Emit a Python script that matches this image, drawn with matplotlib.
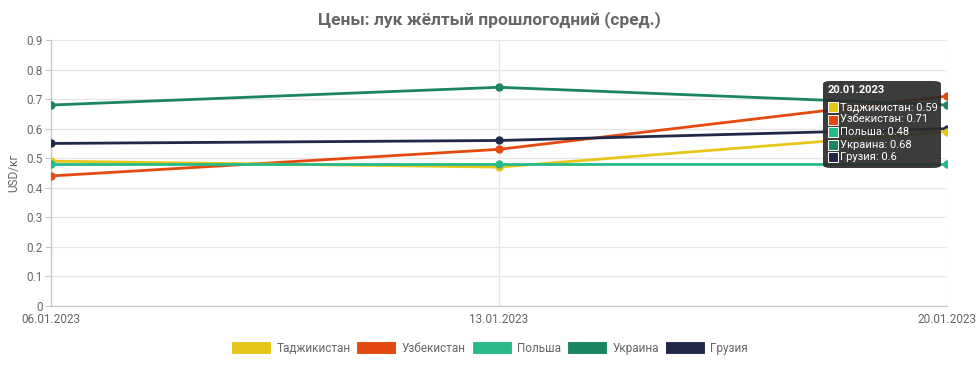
import matplotlib.pyplot as plt
from matplotlib.patches import FancyBboxPatch, Rectangle

plt.rcParams["font.family"] = ["Roboto", "DejaVu Sans"]

dates = ["06.01.2023", "13.01.2023", "20.01.2023"]
series_names = ["Таджикистан", "Узбекистан", "Польша", "Украина", "Грузия"]
tajikistan = [0.49, 0.47, 0.59]
uzbekistan = [0.44, 0.53, 0.71]
poland = [0.48, 0.48, 0.48]
ukraine = [0.68, 0.74, 0.68]
georgia = [0.55, 0.56, 0.60]
colors = ["#E6C619", "#E4490F", "#27B98A", "#1B8562", "#20294A"]
yticks = [0, 0.1, 0.2, 0.3, 0.4, 0.5, 0.6, 0.7, 0.8, 0.9]

values = [tajikistan, uzbekistan, poland, ukraine, georgia]
x = list(range(len(dates)))

fig = plt.figure(figsize=(9.79, 3.65), dpi=100)
ax = fig.add_axes([51 / 979, 59 / 365, 896 / 979, 266 / 365])

# draw so that yellow sits under teal where they overlap in the middle
order = [1, 3, 4, 0, 2]
for i in order:
    ax.plot(x, values[i], color=colors[i], lw=2.0, marker="o", ms=5,
            solid_capstyle="round", zorder=3 + order.index(i))

ax.set_xlim(0, 2)
ax.set_ylim(0, 0.9)
ax.set_yticks(yticks)
ax.set_yticklabels([f"{t:g}" for t in yticks])
ax.set_xticks(x)
ax.set_xticklabels(dates)
ax.grid(True, color="#E6E6E6", lw=0.9)
ax.set_axisbelow(True)
for s in ["top", "right"]:
    ax.spines[s].set_visible(False)
for s in ["left", "bottom"]:
    ax.spines[s].set_color("#C8C8C8")
    ax.spines[s].set_linewidth(1.0)
ax.tick_params(axis="y", colors="#C8C8C8", labelcolor="#666666", labelsize=8.5,
               length=4, pad=2)
ax.tick_params(axis="x", colors="#C8C8C8", labelcolor="#666666", labelsize=8.5,
               length=0, pad=5)
ax.set_ylabel("USD/кг", color="#666666", fontsize=8.5, labelpad=4)

fig.text(0.5, 1 - 20 / 365, "Цены: лук жёлтый прошлогодний (сред.)",
         ha="center", va="center", fontsize=12.5, fontweight="bold",
         color="#666666")

# legend
handles = [Rectangle((0, 0), 1, 1, facecolor=c, edgecolor="white", lw=0.8)
           for c in colors]
fig.legend(handles, series_names, loc="center", bbox_to_anchor=(0.5, 1 - 348 / 365),
           ncol=5, frameon=False, fontsize=8.5, handlelength=3.4,
           handleheight=1.2, columnspacing=0.5, handletextpad=0.45,
           labelcolor="#666666")

# tooltip for the last date
bx0, by0, bw, bh = 823 / 979, 1 - 168 / 365, 118 / 979, 87 / 365
box = FancyBboxPatch((bx0, by0), bw, bh, boxstyle="round,pad=0,rounding_size=0.008",
                     transform=fig.transFigure, facecolor="#2B2B2B",
                     edgecolor="none", alpha=0.92, zorder=10)
fig.patches.append(box)
fig.text(828 / 979, 1 - 90 / 365, dates[-1], color="white", fontsize=8,
         fontweight="bold", va="center", ha="left", zorder=11)
for k, name in enumerate(series_names):
    yy = 1 - (107 + k * 12.5) / 365
    sq = Rectangle((828 / 979, yy - 5 / 365), 10 / 979, 10 / 365,
                   transform=fig.transFigure, facecolor=colors[k],
                   edgecolor="white", lw=0.7, zorder=11)
    fig.patches.append(sq)
    fig.text(840 / 979, yy, f"{name}: {values[k][-1]:g}", color="white",
             fontsize=8, va="center", ha="left", zorder=11)

fig.savefig("out.png", dpi=100)
